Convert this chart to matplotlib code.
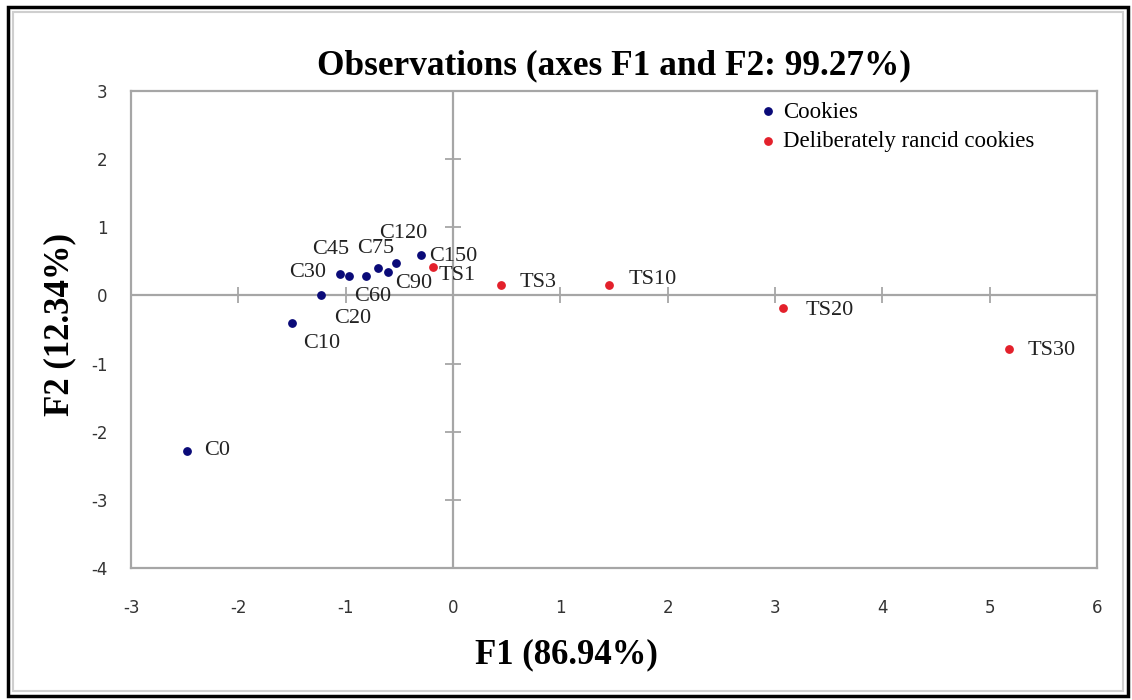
import matplotlib
matplotlib.use("Agg")
import matplotlib.pyplot as plt
from matplotlib.patches import Rectangle

plt.rcParams["axes.unicode_minus"] = False

# PCA observation scores (F1, F2)
cookie_labels = ["C0", "C10", "C20", "C30", "C45", "C60", "C75", "C90", "C120", "C150"]
cookie_f1 = [-2.48, -1.50, -1.23, -1.05, -0.97, -0.81, -0.70, -0.61, -0.53, -0.30]
cookie_f2 = [-2.28, -0.41, 0.00, 0.32, 0.29, 0.28, 0.40, 0.35, 0.47, 0.59]

rancid_labels = ["TS1", "TS3", "TS10", "TS20", "TS30"]
rancid_f1 = [-0.19, 0.45, 1.45, 3.07, 5.18]
rancid_f2 = [0.41, 0.16, 0.16, -0.19, -0.78]

x_ticks = [-3, -2, -1, 0, 1, 2, 3, 4, 5, 6]
y_ticks = [-4, -3, -2, -1, 0, 1, 2, 3]

title = "Observations (axes F1 and F2: 99.27%)"
x_label = "F1 (86.94%)"
y_label = "F2 (12.34%)"
series_names = ["Cookies", "Deliberately rancid cookies"]

# label offsets in pixels (dx, dy, horizontal alignment)
label_offsets = {
    "C0": (17, 0, "left"), "C10": (11, -20, "left"), "C20": (13, -23, "left"),
    "C30": (-14, 1, "right"), "C45": (-37, 26, "left"), "C60": (-12, -20, "left"),
    "C75": (-21, 20, "left"), "C90": (8, -12, "left"), "C120": (-17, 30, "left"),
    "C150": (8, -1, "left"), "TS1": (6, -8, "left"), "TS3": (18, 2, "left"),
    "TS10": (20, 5, "left"), "TS20": (23, -2, "left"), "TS30": (19, -2, "left"),
}

blue = "#0A0A78"
red = "#E3202B"
grey = "#A6A6A6"
serif = ["Liberation Serif", "DejaVu Serif"]

fig = plt.figure(figsize=(11.32, 7.0), dpi=100)
ax = fig.add_axes([131 / 1132, 1 - 568 / 700, (1097 - 131) / 1132, (568 - 91) / 700])

ax.set_xlim(-3, 6)
ax.set_ylim(-4, 3)

# zero lines with crossing tick marks
ax.axhline(0, color=grey, lw=1.6, zorder=1)
ax.axvline(0, color=grey, lw=1.6, zorder=1)
ax.plot(x_ticks, [0] * len(x_ticks), ls="none", marker="|", ms=12, mew=1.3, color=grey, zorder=1)
ax.plot([0] * len(y_ticks), y_ticks, ls="none", marker="_", ms=12, mew=1.3, color=grey, zorder=1)

ax.scatter(cookie_f1, cookie_f2, s=28, color=blue, zorder=3, label=series_names[0])
ax.scatter(rancid_f1, rancid_f2, s=28, color=red, zorder=3, label=series_names[1])

for names, xs, ys in [(cookie_labels, cookie_f1, cookie_f2), (rancid_labels, rancid_f1, rancid_f2)]:
    for n, x, y in zip(names, xs, ys):
        dx, dy, ha = label_offsets[n]
        ax.annotate(n, (x, y), xytext=(dx, dy), textcoords="offset pixels",
                    ha=ha, va="center", fontsize=16, family=serif, color="#222222", zorder=4)

for s in ax.spines.values():
    s.set_color(grey)
    s.set_linewidth(1.6)

ax.set_xticks(x_ticks)
ax.set_yticks(y_ticks)
ax.tick_params(length=0, labelsize=12, labelcolor="#333333")
ax.tick_params(axis="x", pad=22)
ax.tick_params(axis="y", pad=17)

ax.set_title(title, fontsize=25.4, fontweight="bold", family=serif, pad=12)
fig.text(0.5, 1 - 655 / 700, x_label, ha="center", va="center",
         fontsize=25, fontweight="bold", family=serif)
fig.text(60 / 1132, 1 - 325 / 700, y_label, ha="center", va="center", rotation=90,
         fontsize=25, fontweight="bold", family=serif)

leg = ax.legend(loc="upper left", bbox_to_anchor=(743 / 1132, 1 - 90 / 700),
                bbox_transform=fig.transFigure, frameon=False, prop={"family": serif, "size": 16.5},
                handletextpad=0.05, handlelength=1.2, labelspacing=0.38, borderpad=0)

# figure border
fig.add_artist(Rectangle((8 / 1132, 4 / 700), 1120 / 1132, 689 / 700, transform=fig.transFigure,
                         fill=False, edgecolor="black", lw=2.5))
fig.add_artist(Rectangle((13 / 1132, 9 / 700), 1110 / 1132, 679 / 700, transform=fig.transFigure,
                         fill=False, edgecolor="#CFCFCF", lw=1.5))

fig.savefig("out.png", dpi=100)
